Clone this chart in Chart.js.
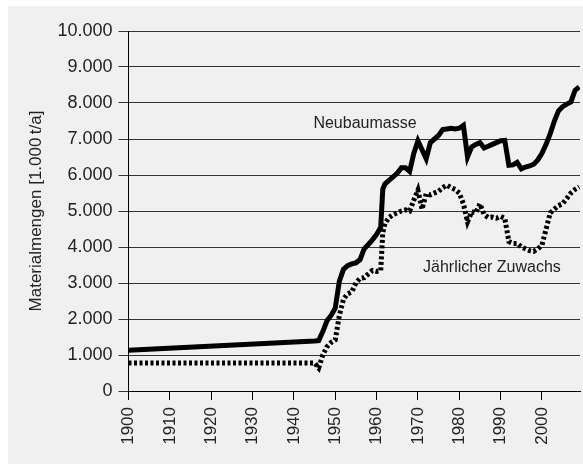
<!DOCTYPE html>
<html>
<head>
<meta charset="utf-8">
<script src="https://cdn.jsdelivr.net/npm/chart.js@4/dist/chart.umd.min.js"></script>
<style>
  html, body { margin: 0; padding: 0; background: #fff; }
  #box { position: absolute; left: 8px; top: 6px; width: 575px; height: 458px; background: #f0f0f0; }
</style>
</head>
<body>
<div id="box"><canvas id="mengenChart"></canvas></div>
<script>
// Jahre (gemeinsame x-Werte fuer beide Reihen)
const years = [1900, 1945, 1946, 1947, 1948, 1949, 1950, 1951, 1952, 1953, 1954, 1955, 1956, 1957, 1958, 1959,
  1960, 1961, 1961.5, 1962, 1963, 1964, 1965, 1966, 1967, 1968, 1969, 1970, 1971, 1972, 1973, 1974, 1975,
  1976, 1977, 1978, 1979, 1980, 1981, 1982, 1983, 1984, 1985, 1986, 1987, 1988, 1989, 1990, 1991, 1992,
  1993, 1994, 1995, 1996, 1997, 1998, 1999, 2000, 2001, 2002, 2003, 2004, 2005, 2006, 2007, 2008, 2009];

// Neubaumasse [1.000 t/a]
const neubaumasse = [1130, 1390, 1400, 1650, 1950, 2100, 2300, 3050, 3380, 3480, 3530, 3560, 3650, 3950, 4070, 4200,
  4350, 4550, 5600, 5750, 5850, 5950, 6050, 6200, 6200, 6100, 6600, 6950, 6700, 6450, 6900, 7000, 7100,
  7260, 7280, 7300, 7280, 7300, 7380, 6500, 6780, 6850, 6900, 6750, 6800, 6850, 6900, 6950, 6960, 6270,
  6280, 6350, 6170, 6220, 6250, 6300, 6420, 6600, 6850, 7150, 7500, 7780, 7900, 7970, 8030, 8350, 8450];

// Jaehrlicher Zuwachs [1.000 t/a]
const zuwachs = [780, 780, 640, 1000, 1230, 1350, 1420, 2100, 2550, 2700, 2750, 3000, 3130, 3150, 3250, 3350,
  3320, 3350, 4400, 4650, 4820, 4900, 4950, 5000, 5030, 5000, 5300, 5580, 5050, 5480, 5450, 5500, 5550,
  5650, 5720, 5650, 5600, 5500, 5200, 4700, 4980, 4950, 5200, 4900, 4820, 4830, 4800, 4850, 4800, 4150,
  4100, 4100, 4000, 3950, 3900, 3880, 3950, 4050, 4500, 4950, 5050, 5150, 5200, 5350, 5500, 5600, 5670];

// Beschriftungen im Diagramm (Jahr, Wert)
const labelTexts = ["Neubaumasse", "Jährlicher Zuwachs"];
const labelYears = [1957.2, 1987.9];
const labelValues = [7440, 3420];

const fontFamily = "'Liberation Sans', Arial, sans-serif";

function fmt(v) {
  return String(v).replace(/\B(?=(\d{3})+(?!\d))/g, ".");
}

const toPoints = vals => years.map((x, i) => ({ x: x, y: vals[i] }));

const textLabels = {
  id: "textLabels",
  afterDatasetsDraw(chart) {
    const c = chart.ctx;
    c.save();
    c.font = "16px " + fontFamily;
    c.fillStyle = "#222";
    c.textAlign = "center";
    c.textBaseline = "middle";
    labelTexts.forEach((t, i) => {
      c.fillText(t, chart.scales.x.getPixelForValue(labelYears[i]), chart.scales.y.getPixelForValue(labelValues[i]));
    });
    c.restore();
  }
};

const ctx = document.getElementById("mengenChart").getContext("2d");

const mengenChart = new Chart(ctx, {
  type: "line",
  data: {
    datasets: [{
      label: "Neubaumasse",
      data: toPoints(neubaumasse),
      borderColor: "#000",
      borderWidth: 5,
      pointRadius: 0,
      tension: 0,
      fill: false
    }, {
      label: "Jährlicher Zuwachs",
      data: toPoints(zuwachs),
      borderColor: "#000",
      borderWidth: 5,
      borderDash: [3, 2.5],
      borderCapStyle: "butt",
      pointRadius: 0,
      tension: 0,
      fill: false
    }]
  },
  options: {
    responsive: true,
    maintainAspectRatio: false,
    animation: false,
    layout: { padding: { top: 25, right: 3, bottom: 0, left: 0 } },
    plugins: {
      legend: { display: false },
      tooltip: { enabled: false }
    },
    scales: {
      x: {
        type: "linear",
        min: 1900,
        max: 2009.2,
        afterFit: s => { s.height = 73; },
        ticks: {
          stepSize: 10,
          includeBounds: false,
          minRotation: 90,
          maxRotation: 90,
          padding: 7,
          color: "#222",
          font: { family: fontFamily, size: 17 },
          callback: v => String(v)
        },
        grid: { drawOnChartArea: false, tickLength: 9, color: "#000" },
        border: { color: "#000", width: 1 }
      },
      y: {
        min: 0,
        max: 10000,
        afterFit: s => { s.width = 120.5; },
        ticks: {
          stepSize: 1000,
          padding: 6,
          color: "#222",
          font: { family: fontFamily, size: 18 },
          callback: v => fmt(v)
        },
        grid: { tickLength: 10, color: "#333", lineWidth: 1 },
        border: { color: "#000", width: 1 },
        title: {
          display: true,
          text: "Materialmengen [1.000\u2009t/a]",
          color: "#222",
          font: { family: fontFamily, size: 17 },
          padding: { top: 18, bottom: 0 }
        }
      }
    }
  },
  plugins: [textLabels]
});
</script>
</body>
</html>
